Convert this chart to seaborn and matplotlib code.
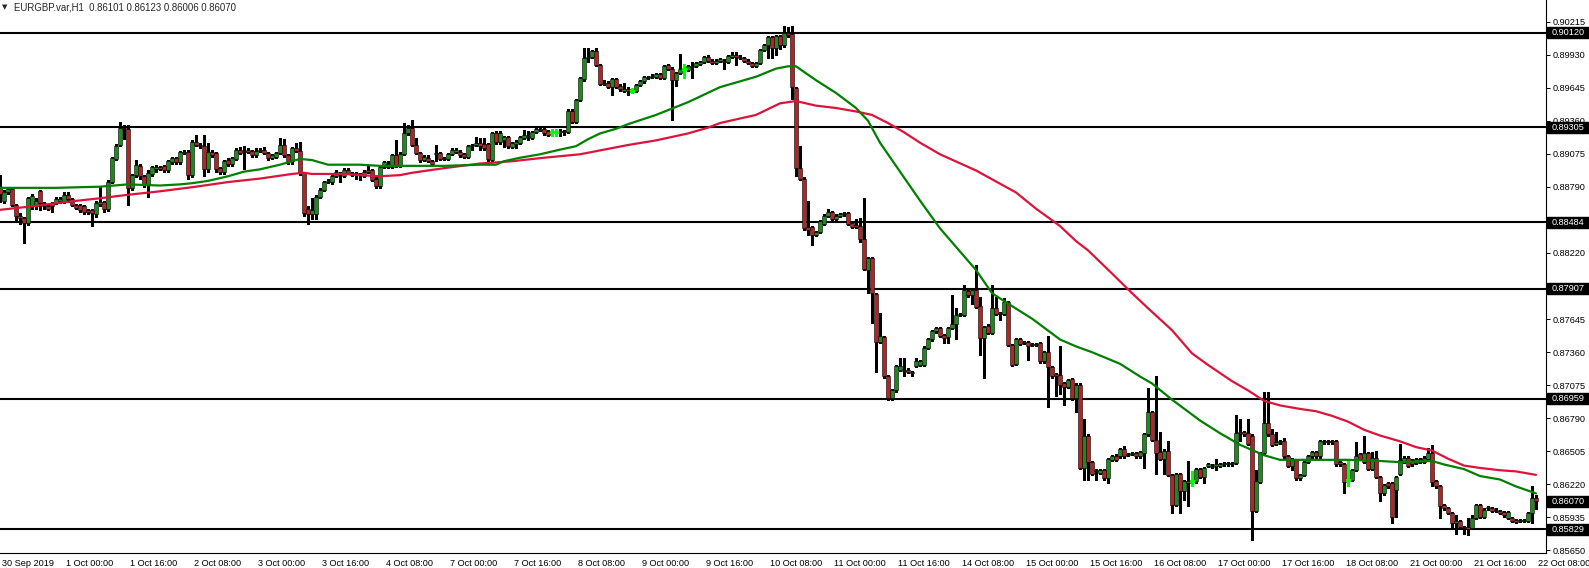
import numpy as np
import matplotlib
matplotlib.use("Agg")
import matplotlib.pyplot as plt
import seaborn as sns
from matplotlib.patches import Rectangle
from matplotlib.transforms import ScaledTranslation

# EURGBP.var H1, one candle per hour from 30 Sep 2019 08:00 to 22 Oct 2019 08:00
opens = [
    0.8878, 0.8867, 0.8874, 0.8877, 0.8863, 0.8854, 0.8852, 0.8848, 0.8862, 0.8862, 0.8875, 0.8865, 0.8862, 0.8865, 0.8865, 0.8867,
    0.8866, 0.8872, 0.8868, 0.8863, 0.8863, 0.8862, 0.8859, 0.8859, 0.8855, 0.8864, 0.8866, 0.8860, 0.8883, 0.8903, 0.8915, 0.8930,
    0.8929, 0.8878, 0.8889, 0.8897, 0.8888, 0.8881, 0.8890, 0.8894, 0.8896, 0.8897, 0.8893, 0.8900, 0.8904, 0.8900, 0.8908, 0.8909,
    0.8889, 0.8918, 0.8915, 0.8914, 0.8894, 0.8909, 0.8908, 0.8895, 0.8892, 0.8902, 0.8899, 0.8903, 0.8911, 0.8909, 0.8911, 0.8910,
    0.8906, 0.8910, 0.8911, 0.8908, 0.8904, 0.8905, 0.8908, 0.8915, 0.8906, 0.8901, 0.8912, 0.8910, 0.8891, 0.8860, 0.8855, 0.8855,
    0.8870, 0.8876, 0.8883, 0.8883, 0.8888, 0.8891, 0.8888, 0.8893, 0.8891, 0.8890, 0.8890, 0.8888, 0.8893, 0.8893, 0.8886, 0.8880,
    0.8896, 0.8896, 0.8896, 0.8906, 0.8897, 0.8907, 0.8925, 0.8930, 0.8915, 0.8908, 0.8902, 0.8904, 0.8901, 0.8907, 0.8908, 0.8903,
    0.8903, 0.8907, 0.8909, 0.8909, 0.8907, 0.8905, 0.8914, 0.8915, 0.8917, 0.8916, 0.8916, 0.8902, 0.8925, 0.8918, 0.8919, 0.8922,
    0.8913, 0.8916, 0.8917, 0.8921, 0.8922, 0.8921, 0.8926, 0.8928, 0.8929, 0.8927, 0.8926, 0.8926, 0.8926, 0.8927, 0.8926, 0.8944,
    0.8935, 0.8954, 0.8972, 0.8990, 0.8991, 0.8996, 0.8984, 0.8968, 0.8969, 0.8965, 0.8972, 0.8966, 0.8962, 0.8963, 0.8962, 0.8962,
    0.8967, 0.8970, 0.8973, 0.8974, 0.8974, 0.8976, 0.8973, 0.8984, 0.8981, 0.8971, 0.8977, 0.8981, 0.8980, 0.8982, 0.8983, 0.8985,
    0.8987, 0.8991, 0.8988, 0.8986, 0.8988, 0.8988, 0.8987, 0.8991, 0.8993, 0.8990, 0.8990, 0.8988, 0.8986, 0.8983, 0.8986, 0.8997,
    0.9001, 0.9008, 0.8999, 0.9009, 0.9001, 0.9012, 0.9011, 0.8964, 0.8895, 0.8886, 0.8844, 0.8844, 0.8837, 0.8840, 0.8847, 0.8854,
    0.8857, 0.8851, 0.8854, 0.8855, 0.8856, 0.8848, 0.8846, 0.8845, 0.8834, 0.8807, 0.8817, 0.8786, 0.8745, 0.8749, 0.8715, 0.8696,
    0.8703, 0.8721, 0.8720, 0.8721, 0.8718, 0.8724, 0.8725, 0.8725, 0.8740, 0.8747, 0.8754, 0.8757, 0.8751, 0.8749, 0.8757, 0.8760,
    0.8768, 0.8768, 0.8789, 0.8785, 0.8790, 0.8776, 0.8748, 0.8759, 0.8753, 0.8774, 0.8769, 0.8769, 0.8779, 0.8742, 0.8726, 0.8747,
    0.8744, 0.8745, 0.8742, 0.8742, 0.8744, 0.8728, 0.8736, 0.8723, 0.8717, 0.8716, 0.8709, 0.8706, 0.8713, 0.8696, 0.8708, 0.8636,
    0.8664, 0.8641, 0.8633, 0.8632, 0.8634, 0.8627, 0.8643, 0.8646, 0.8646, 0.8652, 0.8647, 0.8648, 0.8649, 0.8646, 0.8649, 0.8665,
    0.8684, 0.8660, 0.8650, 0.8644, 0.8651, 0.8630, 0.8604, 0.8631, 0.8616, 0.8625, 0.8625, 0.8625, 0.8635, 0.8628, 0.8638, 0.8637,
    0.8638, 0.8638, 0.8639, 0.8639, 0.8639, 0.8640, 0.8666, 0.8667, 0.8666, 0.8664, 0.8599, 0.8624, 0.8649, 0.8675, 0.8665, 0.8657,
    0.8658, 0.8659, 0.8646, 0.8638, 0.8643, 0.8627, 0.8630, 0.8641, 0.8646, 0.8650, 0.8646, 0.8658, 0.8659, 0.8658, 0.8659, 0.8641,
    0.8639, 0.8626, 0.8626, 0.8634, 0.8648, 0.8641, 0.8649, 0.8635, 0.8645, 0.8628, 0.8614, 0.8623, 0.8623, 0.8617, 0.8631, 0.8641,
    0.8645, 0.8643, 0.8640, 0.8641, 0.8645, 0.8644, 0.8649, 0.8625, 0.8620, 0.8604, 0.8601, 0.8597, 0.8588, 0.8590, 0.8585, 0.8585,
    0.8584, 0.8593, 0.8604, 0.8594, 0.8601, 0.8601, 0.8599, 0.8599, 0.8598, 0.8593, 0.8593, 0.8591, 0.8590, 0.8590, 0.8590, 0.8597,
    0.86101,
]
highs = [
    0.8889, 0.8876, 0.8879, 0.8878, 0.8864, 0.8856, 0.8853, 0.8870, 0.8873, 0.8869, 0.8876, 0.8866, 0.8864, 0.8866, 0.8870, 0.8870,
    0.8874, 0.8874, 0.8869, 0.8864, 0.8864, 0.8863, 0.8860, 0.8860, 0.8867, 0.8879, 0.8867, 0.8885, 0.8905, 0.8916, 0.8935, 0.8932,
    0.8932, 0.8890, 0.8902, 0.8899, 0.8889, 0.8893, 0.8897, 0.8898, 0.8897, 0.8898, 0.8902, 0.8905, 0.8905, 0.8910, 0.8911, 0.8911,
    0.8919, 0.8924, 0.8917, 0.8924, 0.8917, 0.8911, 0.8909, 0.8896, 0.8902, 0.8904, 0.8905, 0.8912, 0.8913, 0.8914, 0.8912, 0.8911,
    0.8912, 0.8912, 0.8913, 0.8909, 0.8907, 0.8909, 0.8921, 0.8920, 0.8907, 0.8913, 0.8917, 0.8918, 0.8892, 0.8862, 0.8869, 0.8872,
    0.8878, 0.8884, 0.8886, 0.8889, 0.8893, 0.8892, 0.8895, 0.8895, 0.8892, 0.8892, 0.8891, 0.8893, 0.8897, 0.8894, 0.8887, 0.8897,
    0.8901, 0.8901, 0.8907, 0.8919, 0.8909, 0.8934, 0.8932, 0.8937, 0.8921, 0.8909, 0.8906, 0.8906, 0.8902, 0.8915, 0.8909, 0.8905,
    0.8908, 0.8912, 0.8912, 0.8911, 0.8908, 0.8915, 0.8916, 0.8922, 0.8921, 0.8921, 0.8917, 0.8926, 0.8927, 0.8927, 0.8923, 0.8923,
    0.8918, 0.8919, 0.8923, 0.8928, 0.8927, 0.8927, 0.8930, 0.8931, 0.8930, 0.8928, 0.8929, 0.8929, 0.8929, 0.8928, 0.8946, 0.8946,
    0.8955, 0.8974, 0.8999, 0.8999, 0.8997, 0.8999, 0.8985, 0.8971, 0.8970, 0.8973, 0.8973, 0.8968, 0.8969, 0.8965, 0.8964, 0.8968,
    0.8971, 0.8975, 0.8975, 0.8976, 0.8977, 0.8977, 0.8984, 0.8985, 0.8982, 0.8978, 0.8994, 0.8985, 0.8984, 0.8987, 0.8987, 0.8988,
    0.8992, 0.8993, 0.8989, 0.8989, 0.8990, 0.8989, 0.8993, 0.8995, 0.8995, 0.8993, 0.8991, 0.8989, 0.8987, 0.8987, 0.8998, 0.9002,
    0.9009, 0.9009, 0.9010, 0.9010, 0.9018, 0.9017, 0.9018, 0.8965, 0.8914, 0.8887, 0.8867, 0.8845, 0.8841, 0.8850, 0.8855, 0.8860,
    0.8858, 0.8855, 0.8856, 0.8857, 0.8857, 0.8849, 0.8851, 0.8852, 0.8869, 0.8818, 0.8818, 0.8787, 0.8770, 0.8750, 0.8716, 0.8704,
    0.8725, 0.8731, 0.8731, 0.8722, 0.8720, 0.8731, 0.8729, 0.8741, 0.8748, 0.8755, 0.8758, 0.8758, 0.8752, 0.8758, 0.8785, 0.8774,
    0.8770, 0.8794, 0.8791, 0.8791, 0.8811, 0.8784, 0.8759, 0.8760, 0.8794, 0.8784, 0.8771, 0.8783, 0.8780, 0.8743, 0.8748, 0.8748,
    0.8746, 0.8746, 0.8744, 0.8744, 0.8745, 0.8737, 0.8750, 0.8724, 0.8718, 0.8741, 0.8710, 0.8713, 0.8714, 0.8709, 0.8709, 0.8678,
    0.8665, 0.8642, 0.8635, 0.8635, 0.8635, 0.8645, 0.8647, 0.8648, 0.8653, 0.8655, 0.8649, 0.8650, 0.8650, 0.8651, 0.8666, 0.8705,
    0.8685, 0.8715, 0.8667, 0.8652, 0.8659, 0.8631, 0.8632, 0.8632, 0.8626, 0.8642, 0.8633, 0.8636, 0.8636, 0.8637, 0.8640, 0.8639,
    0.8644, 0.8640, 0.8641, 0.8641, 0.8641, 0.8682, 0.8678, 0.8668, 0.8678, 0.8665, 0.8634, 0.8650, 0.8702, 0.8702, 0.8670, 0.8667,
    0.8660, 0.8662, 0.8647, 0.8645, 0.8644, 0.8631, 0.8642, 0.8647, 0.8651, 0.8651, 0.8660, 0.8660, 0.8660, 0.8660, 0.8660, 0.8642,
    0.8640, 0.8644, 0.8635, 0.8658, 0.8649, 0.8664, 0.8650, 0.8650, 0.8651, 0.8629, 0.8622, 0.8624, 0.8624, 0.8629, 0.8657, 0.8646,
    0.8646, 0.8644, 0.8645, 0.8645, 0.8646, 0.8653, 0.8656, 0.8626, 0.8621, 0.8605, 0.8602, 0.8598, 0.8595, 0.8591, 0.8586, 0.8593,
    0.8595, 0.8605, 0.8605, 0.8601, 0.8603, 0.8602, 0.8601, 0.8600, 0.8599, 0.8599, 0.8594, 0.8592, 0.8592, 0.8592, 0.8598, 0.8620,
    0.86123,
]
lows = [
    0.8866, 0.8865, 0.8873, 0.8862, 0.8850, 0.8847, 0.8830, 0.8846, 0.8860, 0.8860, 0.8859, 0.8860, 0.8859, 0.8857, 0.8864, 0.8865,
    0.8865, 0.8866, 0.8862, 0.8860, 0.8857, 0.8855, 0.8855, 0.8845, 0.8853, 0.8862, 0.8857, 0.8858, 0.8882, 0.8902, 0.8914, 0.8920,
    0.8863, 0.8876, 0.8887, 0.8886, 0.8879, 0.8870, 0.8888, 0.8892, 0.8893, 0.8892, 0.8892, 0.8899, 0.8899, 0.8899, 0.8907, 0.8886,
    0.8887, 0.8914, 0.8912, 0.8888, 0.8892, 0.8905, 0.8892, 0.8890, 0.8890, 0.8897, 0.8897, 0.8902, 0.8907, 0.8894, 0.8908, 0.8905,
    0.8905, 0.8909, 0.8907, 0.8902, 0.8903, 0.8904, 0.8907, 0.8905, 0.8899, 0.8899, 0.8909, 0.8889, 0.8854, 0.8847, 0.8851, 0.8851,
    0.8869, 0.8875, 0.8882, 0.8881, 0.8887, 0.8883, 0.8887, 0.8890, 0.8888, 0.8886, 0.8885, 0.8887, 0.8891, 0.8884, 0.8878, 0.8878,
    0.8895, 0.8895, 0.8895, 0.8896, 0.8896, 0.8906, 0.8924, 0.8914, 0.8907, 0.8900, 0.8901, 0.8900, 0.8897, 0.8901, 0.8902, 0.8902,
    0.8902, 0.8906, 0.8908, 0.8905, 0.8904, 0.8904, 0.8911, 0.8914, 0.8911, 0.8911, 0.8901, 0.8901, 0.8916, 0.8916, 0.8913, 0.8912,
    0.8912, 0.8912, 0.8916, 0.8920, 0.8919, 0.8920, 0.8925, 0.8927, 0.8924, 0.8923, 0.8923, 0.8923, 0.8923, 0.8924, 0.8925, 0.8934,
    0.8934, 0.8953, 0.8970, 0.8987, 0.8990, 0.8983, 0.8967, 0.8967, 0.8964, 0.8958, 0.8964, 0.8962, 0.8961, 0.8958, 0.8960, 0.8961,
    0.8966, 0.8969, 0.8972, 0.8973, 0.8973, 0.8972, 0.8972, 0.8980, 0.8937, 0.8966, 0.8976, 0.8973, 0.8979, 0.8973, 0.8982, 0.8984,
    0.8986, 0.8987, 0.8985, 0.8985, 0.8987, 0.8981, 0.8986, 0.8990, 0.8984, 0.8989, 0.8987, 0.8985, 0.8982, 0.8982, 0.8985, 0.8996,
    0.8990, 0.8990, 0.8993, 0.8998, 0.9000, 0.9008, 0.8955, 0.8888, 0.8885, 0.8842, 0.8837, 0.8829, 0.8836, 0.8839, 0.8846, 0.8853,
    0.8850, 0.8850, 0.8853, 0.8854, 0.8846, 0.8843, 0.8843, 0.8831, 0.8807, 0.8787, 0.8761, 0.8719, 0.8744, 0.8714, 0.8695, 0.8695,
    0.8702, 0.8720, 0.8715, 0.8718, 0.8715, 0.8723, 0.8724, 0.8724, 0.8739, 0.8746, 0.8753, 0.8749, 0.8744, 0.8744, 0.8756, 0.8747,
    0.8767, 0.8767, 0.8784, 0.8778, 0.8774, 0.8734, 0.8714, 0.8752, 0.8752, 0.8768, 0.8764, 0.8768, 0.8741, 0.8724, 0.8725, 0.8742,
    0.8743, 0.8729, 0.8741, 0.8741, 0.8727, 0.8727, 0.8689, 0.8714, 0.8698, 0.8700, 0.8690, 0.8705, 0.8695, 0.8684, 0.8635, 0.8626,
    0.8626, 0.8630, 0.8626, 0.8631, 0.8626, 0.8623, 0.8642, 0.8642, 0.8645, 0.8645, 0.8646, 0.8647, 0.8645, 0.8645, 0.8636, 0.8664,
    0.8659, 0.8631, 0.8643, 0.8631, 0.8629, 0.8597, 0.8603, 0.8597, 0.8608, 0.8603, 0.8620, 0.8623, 0.8627, 0.8623, 0.8637, 0.8636,
    0.8634, 0.8637, 0.8638, 0.8638, 0.8638, 0.8639, 0.8659, 0.8664, 0.8656, 0.8574, 0.8598, 0.8623, 0.8648, 0.8664, 0.8655, 0.8656,
    0.8657, 0.8645, 0.8637, 0.8634, 0.8626, 0.8626, 0.8629, 0.8640, 0.8645, 0.8645, 0.8645, 0.8657, 0.8657, 0.8657, 0.8638, 0.8638,
    0.8614, 0.8620, 0.8625, 0.8633, 0.8643, 0.8640, 0.8634, 0.8634, 0.8627, 0.8607, 0.8613, 0.8619, 0.8588, 0.8594, 0.8630, 0.8640,
    0.8637, 0.8638, 0.8639, 0.8640, 0.8640, 0.8643, 0.8620, 0.8619, 0.8593, 0.8600, 0.8596, 0.8585, 0.8579, 0.8584, 0.8579, 0.8578,
    0.8583, 0.8592, 0.8593, 0.8593, 0.8600, 0.8598, 0.8598, 0.8596, 0.8594, 0.8592, 0.8589, 0.8588, 0.8589, 0.8589, 0.8589, 0.8588,
    0.86006,
]
closes = [
    0.8873, 0.8874, 0.8877, 0.8863, 0.8854, 0.8852, 0.8848, 0.8869, 0.8871, 0.8867, 0.8865, 0.8862, 0.8860, 0.8862, 0.8868, 0.8868,
    0.8872, 0.8868, 0.8863, 0.8861, 0.8859, 0.8857, 0.8857, 0.8856, 0.8865, 0.8866, 0.8860, 0.8883, 0.8904, 0.8914, 0.8930, 0.8929,
    0.8878, 0.8889, 0.8898, 0.8888, 0.8881, 0.8891, 0.8896, 0.8896, 0.8894, 0.8893, 0.8901, 0.8904, 0.8900, 0.8909, 0.8909, 0.8889,
    0.8918, 0.8915, 0.8914, 0.8894, 0.8909, 0.8906, 0.8894, 0.8892, 0.8901, 0.8899, 0.8904, 0.8911, 0.8908, 0.8910, 0.8909, 0.8906,
    0.8910, 0.8911, 0.8908, 0.8904, 0.8906, 0.8908, 0.8915, 0.8906, 0.8901, 0.8912, 0.8910, 0.8891, 0.8856, 0.8855, 0.8859, 0.8870,
    0.8876, 0.8883, 0.8884, 0.8888, 0.8892, 0.8890, 0.8893, 0.8891, 0.8889, 0.8891, 0.8889, 0.8892, 0.8892, 0.8885, 0.8880, 0.8896,
    0.8900, 0.8899, 0.8906, 0.8897, 0.8907, 0.8925, 0.8930, 0.8915, 0.8908, 0.8902, 0.8905, 0.8901, 0.8899, 0.8908, 0.8903, 0.8904,
    0.8907, 0.8911, 0.8911, 0.8906, 0.8905, 0.8914, 0.8915, 0.8917, 0.8914, 0.8912, 0.8903, 0.8925, 0.8918, 0.8925, 0.8922, 0.8914,
    0.8917, 0.8918, 0.8922, 0.8924, 0.8923, 0.8926, 0.8929, 0.8929, 0.8925, 0.8924, 0.8926, 0.8926, 0.8927, 0.8926, 0.8944, 0.8935,
    0.8954, 0.8973, 0.8990, 0.8991, 0.8996, 0.8984, 0.8968, 0.8969, 0.8965, 0.8972, 0.8965, 0.8963, 0.8963, 0.8962, 0.8962, 0.8967,
    0.8970, 0.8974, 0.8974, 0.8975, 0.8976, 0.8973, 0.8983, 0.8981, 0.8971, 0.8977, 0.8981, 0.8981, 0.8983, 0.8983, 0.8986, 0.8987,
    0.8991, 0.8988, 0.8986, 0.8988, 0.8989, 0.8987, 0.8992, 0.8993, 0.8991, 0.8991, 0.8988, 0.8986, 0.8983, 0.8986, 0.8997, 0.9001,
    0.9008, 0.8999, 0.9009, 0.9001, 0.9012, 0.9010, 0.8965, 0.8895, 0.8886, 0.8843, 0.8842, 0.8837, 0.8840, 0.8849, 0.8854, 0.8857,
    0.8851, 0.8854, 0.8855, 0.8856, 0.8847, 0.8844, 0.8844, 0.8834, 0.8808, 0.8817, 0.8787, 0.8745, 0.8750, 0.8715, 0.8696, 0.8703,
    0.8724, 0.8724, 0.8721, 0.8719, 0.8719, 0.8728, 0.8728, 0.8740, 0.8747, 0.8754, 0.8757, 0.8750, 0.8748, 0.8757, 0.8760, 0.8768,
    0.8769, 0.8790, 0.8785, 0.8790, 0.8775, 0.8748, 0.8758, 0.8753, 0.8774, 0.8769, 0.8770, 0.8779, 0.8742, 0.8725, 0.8747, 0.8743,
    0.8745, 0.8741, 0.8743, 0.8743, 0.8728, 0.8736, 0.8723, 0.8715, 0.8715, 0.8708, 0.8706, 0.8712, 0.8696, 0.8708, 0.8636, 0.8664,
    0.8641, 0.8631, 0.8634, 0.8634, 0.8627, 0.8644, 0.8646, 0.8643, 0.8652, 0.8646, 0.8648, 0.8649, 0.8646, 0.8650, 0.8665, 0.8684,
    0.8660, 0.8649, 0.8644, 0.8651, 0.8630, 0.8604, 0.8631, 0.8616, 0.8625, 0.8623, 0.8625, 0.8635, 0.8628, 0.8636, 0.8639, 0.8638,
    0.8639, 0.8639, 0.8640, 0.8640, 0.8640, 0.8666, 0.8667, 0.8665, 0.8657, 0.8599, 0.8625, 0.8649, 0.8675, 0.8665, 0.8656, 0.8658,
    0.8659, 0.8646, 0.8638, 0.8644, 0.8627, 0.8630, 0.8641, 0.8646, 0.8650, 0.8646, 0.8659, 0.8659, 0.8658, 0.8659, 0.8639, 0.8639,
    0.8624, 0.8626, 0.8634, 0.8646, 0.8644, 0.8649, 0.8635, 0.8645, 0.8628, 0.8614, 0.8621, 0.8620, 0.8594, 0.8628, 0.8643, 0.8645,
    0.8638, 0.8639, 0.8644, 0.8644, 0.8641, 0.8649, 0.8624, 0.8620, 0.8603, 0.8601, 0.8597, 0.8588, 0.8590, 0.8585, 0.8584, 0.8583,
    0.8593, 0.8604, 0.8594, 0.8600, 0.8602, 0.8599, 0.8600, 0.8597, 0.8595, 0.8598, 0.8590, 0.8589, 0.8591, 0.8591, 0.8597, 0.8610,
    0.86070,
]

# moving averages (candle number, price)
fast_ma_idx = [0, 14, 25, 32, 40, 45, 48, 52, 57, 61, 65, 70, 73, 75, 78, 82, 90, 95, 103, 111,
               120, 124, 126, 130, 135, 140, 144, 147, 150, 154, 157, 164, 172, 180, 189, 194, 197, 199, 204, 209,
               214, 217, 220, 225, 230, 235, 240, 244, 248, 252, 258, 265, 269, 273, 280, 285, 288, 293, 300, 305,
               310, 316, 320, 329, 337, 345, 350, 358, 361, 366, 370, 375, 379, 384]
fast_ma = [0.8878, 0.8878, 0.8879, 0.8881, 0.8880, 0.8881, 0.8882, 0.8884, 0.8888, 0.8892,
           0.8894, 0.8898, 0.8901, 0.8903, 0.8902, 0.8898, 0.8898, 0.8897, 0.8897, 0.8897,
           0.8898, 0.8898, 0.8901, 0.8904, 0.8907, 0.8911, 0.8914, 0.8920, 0.8925, 0.8929,
           0.8933, 0.8941, 0.8952, 0.8965, 0.8974, 0.8981, 0.8983, 0.8983, 0.8971, 0.8960,
           0.8947, 0.8936, 0.8917, 0.8892, 0.8867, 0.8843, 0.8823, 0.8807, 0.8787, 0.8778,
           0.8765, 0.8747, 0.8741, 0.8736, 0.8726, 0.8715, 0.8709, 0.8695, 0.8677, 0.8666,
           0.8656, 0.8647, 0.8643, 0.8643, 0.8643, 0.8642, 0.8641, 0.8642, 0.8639, 0.8635,
           0.8629, 0.8626, 0.8620, 0.8614]
slow_ma_idx = [0, 8, 17, 25, 32, 40, 49, 57, 65, 73, 76, 78, 86, 90, 95, 100, 103, 111, 120, 128,
               136, 145, 151, 157, 164, 172, 177, 180, 189, 195, 199, 204, 209, 214, 218, 222, 226, 230, 235, 244,
               254, 259, 265, 269, 272, 278, 283, 287, 293, 298, 302, 308, 312, 316, 320, 325, 329, 333, 337, 341,
               345, 350, 354, 358, 362, 366, 370, 375, 379, 384]
slow_ma = [0.8859, 0.8862, 0.8866, 0.8869, 0.8872, 0.8875, 0.8879, 0.8883, 0.8886, 0.8890,
           0.8891, 0.8890, 0.8890, 0.8889, 0.8888, 0.8889, 0.8891, 0.8895, 0.8899, 0.8901,
           0.8904, 0.8907, 0.8911, 0.8915, 0.8919, 0.8925, 0.8930, 0.8934, 0.8941, 0.8951,
           0.8953, 0.8949, 0.8947, 0.8944, 0.8941, 0.8934, 0.8926, 0.8917, 0.8907, 0.8893,
           0.8874, 0.8860, 0.8845, 0.8832, 0.8824, 0.8804, 0.8787, 0.8774, 0.8755, 0.8735,
           0.8725, 0.8711, 0.8703, 0.8694, 0.8690, 0.8687, 0.8685, 0.8681, 0.8676, 0.8669,
           0.8664, 0.8659, 0.8654, 0.8651, 0.8644, 0.8638, 0.8636, 0.8634, 0.8633, 0.8630]

levels = [0.90120, 0.89305, 0.88484, 0.87907, 0.86959, 0.85829]
last_price = 0.86070
price_ticks = [0.90215, 0.89930, 0.89645, 0.89360, 0.89075, 0.88790, 0.88505, 0.88220, 0.87935,
               0.87645, 0.87360, 0.87075, 0.86790, 0.86505, 0.86220, 0.85935, 0.85650]
time_labels = ["30 Sep 2019", "1 Oct 00:00", "1 Oct 16:00", "2 Oct 08:00", "3 Oct 00:00", "3 Oct 16:00",
               "4 Oct 08:00", "7 Oct 00:00", "7 Oct 16:00", "8 Oct 08:00", "9 Oct 00:00", "9 Oct 16:00",
               "10 Oct 08:00", "11 Oct 00:00", "11 Oct 16:00", "14 Oct 08:00", "15 Oct 00:00", "15 Oct 16:00",
               "16 Oct 08:00", "17 Oct 00:00", "17 Oct 16:00", "18 Oct 08:00", "21 Oct 00:00", "21 Oct 16:00",
               "22 Oct 08:00"]
title = "EURGBP.var,H1  0.86101 0.86123 0.86006 0.86070"

bull_color = "#1a8c1a"
bear_color = "#b32424"
doji_color = "#00ff00"

sns.set_style("white")
plt.rcParams['font.family'] = ['Liberation Sans', 'DejaVu Sans']

W, H = 1589, 568
fig = plt.figure(figsize=(W / 100, H / 100), dpi=100)
ax = fig.add_axes([0, 15 / H, 1546 / W, 553 / H])

o = np.array(opens)
h = np.array(highs)
l = np.array(lows)
c = np.array(closes)
x = np.arange(len(c))
doji = np.isclose(o, c, atol=1e-7)
bull = (c > o) & ~doji
bear = (c < o) & ~doji

for lvl in levels:
    ax.axhline(lvl, color="black", lw=1.5, zorder=1)

ax.vlines(x[~doji], l[~doji], h[~doji], color="black", lw=0.75, antialiased=False, zorder=2)
ax.bar(x[bull], (c - o)[bull], bottom=o[bull], width=0.78, color=bull_color,
       edgecolor="black", linewidth=0.4, zorder=3)
ax.bar(x[bear], (o - c)[bear], bottom=c[bear], width=0.78, color=bear_color,
       edgecolor="black", linewidth=0.4, zorder=3)
ax.vlines(x[doji], l[doji], h[doji], color=doji_color, lw=0.75, antialiased=False, zorder=3)
ax.hlines(c[doji], x[doji] - 0.4, x[doji] + 0.4, color=doji_color, lw=0.75, antialiased=False, zorder=3)

sns.lineplot(x=slow_ma_idx, y=slow_ma, color="#dc143c", lw=1.6, ax=ax, zorder=4)
sns.lineplot(x=fast_ma_idx, y=fast_ma, color="#008000", lw=1.6, ax=ax, zorder=4)

ax.set_xlim(0, 386.5)
ax.set_ylim(0.85625, 0.90403)
ax.set_xlabel("")
ax.set_ylabel("")

for side in ["top", "left"]:
    ax.spines[side].set_visible(False)
for side in ["right", "bottom"]:
    ax.spines[side].set_color("black")
    ax.spines[side].set_linewidth(0.8)

ax.yaxis.tick_right()
ax.set_yticks(price_ticks)
ax.set_yticklabels([f"{p:.5f}" for p in price_ticks])
ax.tick_params(axis="y", direction="out", length=3, width=0.7, pad=2, labelsize=6.6, colors="black")

ax.set_xticks(np.arange(0, len(c), 16))
ax.set_xticklabels(time_labels, ha="left")
ax.tick_params(axis="x", direction="out", length=3, width=0.7, pad=1, labelsize=6.6, colors="black")
shift = ScaledTranslation(2 / 100, 0, fig.dpi_scale_trans)
for lab in ax.get_xticklabels():
    lab.set_transform(lab.get_transform() + shift)

# price boxes on the right scale
fig.canvas.draw()
for lvl in levels + [last_price]:
    ypx = ax.transData.transform((0, lvl))[1]
    fig.patches.append(Rectangle((1547 / W, (ypx - 5.5) / H), 42 / W, 11 / H,
                                 transform=fig.transFigure, facecolor="black",
                                 edgecolor="black", zorder=5))
    fig.text(1552 / W, ypx / H, f"{lvl:.5f}", color="white", fontsize=6.6,
             va="center", ha="left", zorder=6)

fig.text(2 / W, 1 - 7 / H, "\u25bc", fontsize=5, va="center", ha="left",
         family=["DejaVu Sans"])
fig.text(14 / W, 1 - 7 / H, title, fontsize=6.9, va="center", ha="left")

fig.savefig("out.png", dpi=100)
